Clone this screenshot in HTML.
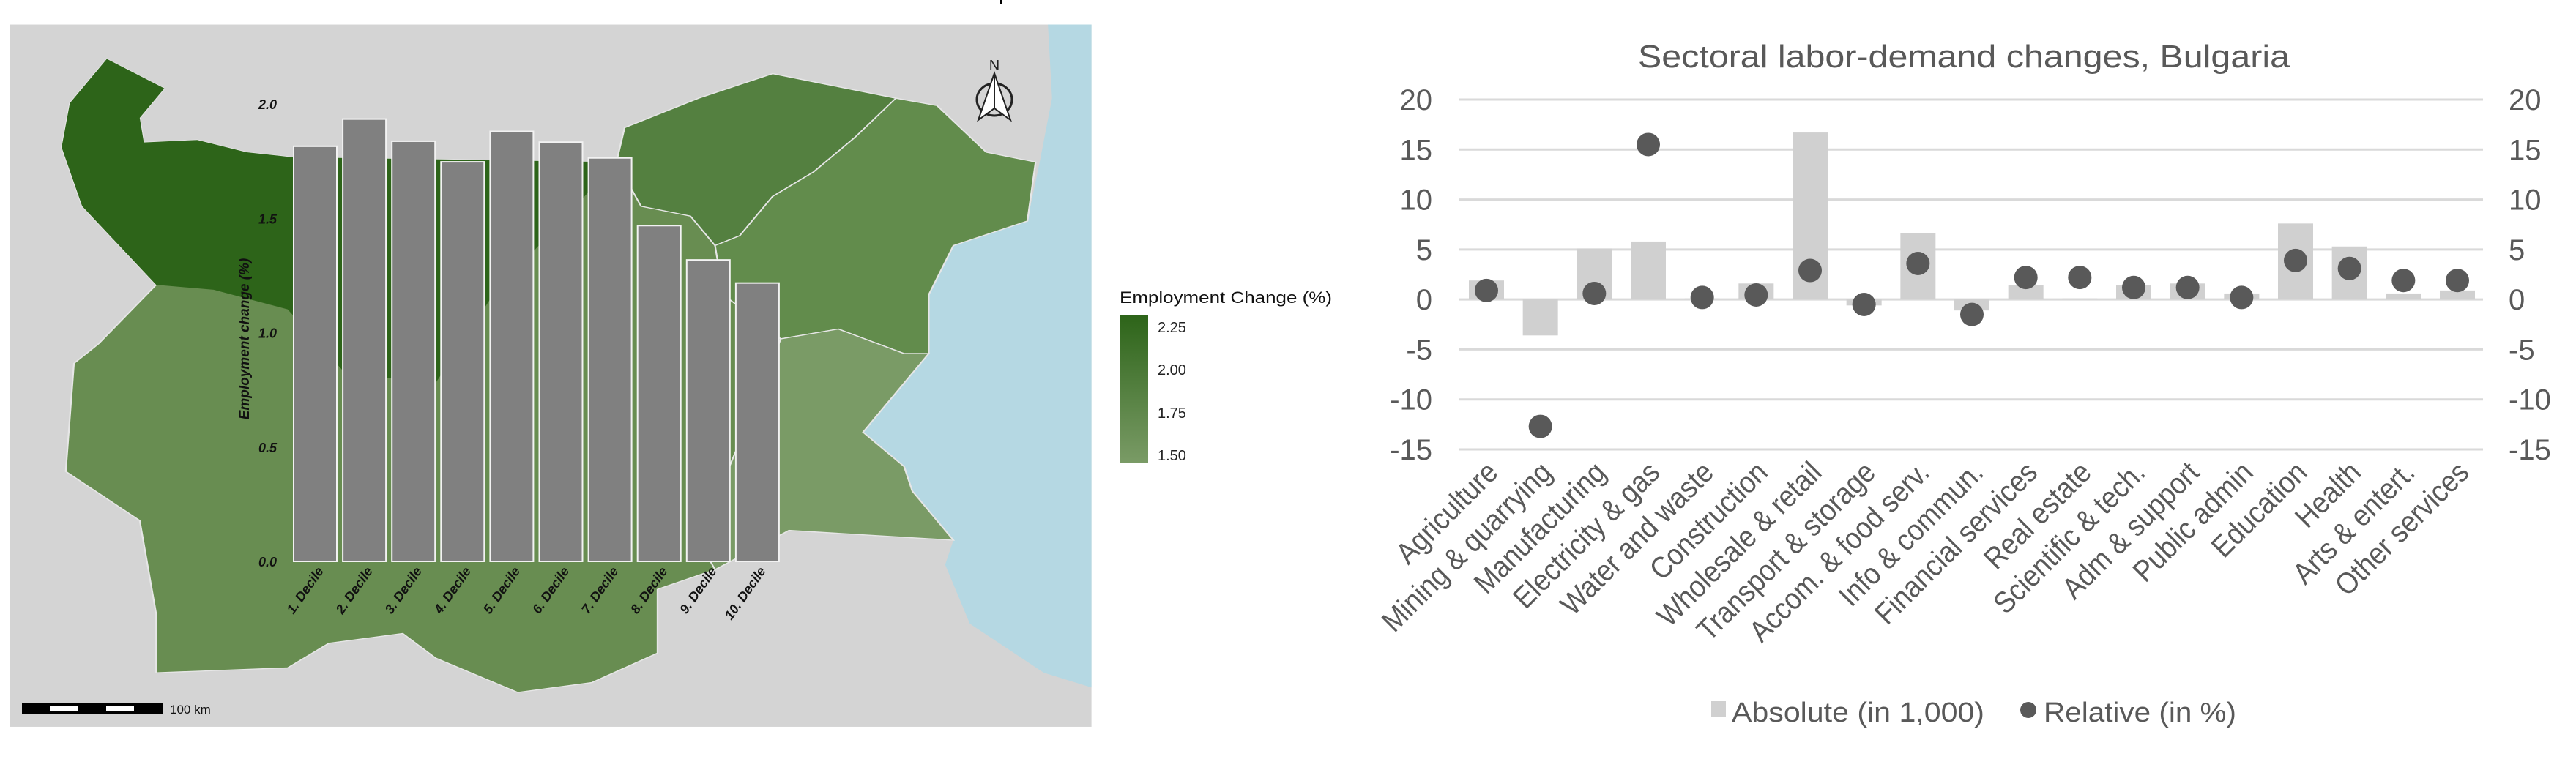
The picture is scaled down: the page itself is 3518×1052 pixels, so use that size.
<!DOCTYPE html>
<html><head><meta charset="utf-8"><style>
html,body{margin:0;padding:0;background:#fff;width:3518px;height:1052px;overflow:hidden;font-family:"Liberation Sans",sans-serif}
svg{position:absolute;left:0;top:0;overflow:visible}
</style></head><body>
<svg width="1760" height="1052" viewBox="0 0 1568 1568" preserveAspectRatio="none" style="overflow:hidden">
<rect x="12" y="50" width="1316" height="1430" fill="#d4d4d4"/>
<polygon fill="#b5d8e3" points="1275,50 1328,50 1328,1400 1270,1370 1180,1270 1150,1150 1160,1100 1110,1000 1100,950 1050,880 1060,800 1100,780 1130,720 1130,600 1160,500 1250,450 1265,330 1280,200"/>
<polygon fill="#688d51" stroke="#e6e6e6" stroke-width="2" points="130,120 200,180 170,240 175,290 240,285 300,310 355,320 750,330 760,260 850,200 940,150 1000,170 1090,200 1140,215 1200,310 1260,330 1250,450 1160,500 1130,600 1130,720 1100,780 1050,880 1100,950 1110,1000 1160,1100 960,1080 870,1160 800,1200 800,1330 720,1390 630,1410 530,1340 490,1290 400,1310 350,1360 190,1370 190,1250 170,1060 80,960 90,740 120,700 190,580 100,420 75,300 85,210"/>
<polygon fill="#2d6419" points="130,120 200,180 170,240 175,290 240,285 300,310 355,320 750,330 600,600 530,780 420,760 350,630 260,590 190,580 100,420 75,300 85,210"/>
<polygon fill="#548040" stroke="#e6e6e6" stroke-width="2" points="750,330 760,260 850,200 940,150 1000,170 1090,200 1090,230 1040,280 990,350 940,400 900,480 870,500 840,440 780,420"/>
<polygon fill="#628c4c" stroke="#e6e6e6" stroke-width="2" points="1090,200 1140,215 1200,310 1260,330 1250,450 1160,500 1130,600 1130,720 1100,720 1020,670 950,690 880,600 870,500 900,480 940,400 990,350 1040,280"/>
<polygon fill="#7a9b66" stroke="#e6e6e6" stroke-width="2" points="950,690 1020,670 1100,720 1130,720 1100,780 1050,880 1100,950 1110,1000 1160,1100 960,1080 870,1160 850,1100 900,900"/>
</svg>
<svg width="1760" height="1052" viewBox="0 0 1760 1052">
<line x1="1367" y1="0" x2="1367" y2="6" stroke="#000" stroke-width="2"/>
<g id="decile-chart"></g>
<g>
<text x="1358" y="96" font-size="20" text-anchor="middle" fill="#222">N</text>
<ellipse cx="1358" cy="136" rx="24" ry="22" fill="none" stroke="#222" stroke-width="3"/>
<polygon points="1358,100 1336,164 1358,148 1380,164" fill="#fff" stroke="#222" stroke-width="2"/>
<line x1="1358" y1="100" x2="1358" y2="148" stroke="#222" stroke-width="2"/>
</g>
<g>
<rect x="30" y="961" width="192" height="14" fill="#000"/>
<rect x="68" y="964" width="38" height="8" fill="#fff"/>
<rect x="145" y="964" width="38" height="8" fill="#fff"/>
<text x="232" y="975" font-size="17" fill="#111">100 km</text>
</g>
<g>
<defs><linearGradient id="lg" x1="0" y1="0" x2="0" y2="1"><stop offset="0" stop-color="#2d6419"/><stop offset="1" stop-color="#7a9b66"/></linearGradient></defs>
<text x="1529" y="414" font-size="22" fill="#111" textLength="290" lengthAdjust="spacingAndGlyphs">Employment Change (%)</text>
<rect x="1529" y="431" width="39" height="202" fill="url(#lg)"/>
<text x="1581" y="454" font-size="20" fill="#222">2.25</text>
<text x="1581" y="512" font-size="20" fill="#222">2.00</text>
<text x="1581" y="571" font-size="20" fill="#222">1.75</text>
<text x="1581" y="629" font-size="20" fill="#222">1.50</text>
</g>
</svg>
<svg width="3518" height="1052" viewBox="0 0 3518 1052" style="pointer-events:none">
<text x="2682" y="92" font-size="44" text-anchor="middle" fill="#595959" textLength="890" lengthAdjust="spacingAndGlyphs">Sectoral labor-demand changes, Bulgaria</text>
<g id="sector"></g>
<g>
<rect x="2337" y="958" width="20" height="22" fill="#d0d0d0"/>
<text x="2365" y="986" font-size="38" fill="#595959" textLength="345" lengthAdjust="spacingAndGlyphs">Absolute (in 1,000)</text>
<circle cx="2770" cy="970" r="11" fill="#595959"/>
<text x="2791" y="986" font-size="38" fill="#595959" textLength="263" lengthAdjust="spacingAndGlyphs">Relative (in %)</text>
</g>
</svg>
<script>
var NS="http://www.w3.org/2000/svg";
function mk(p,t,a){var e=document.createElementNS(NS,t);for(var k in a)e.setAttribute(k,a[k]);p.appendChild(e);return e;}
var decileLabels=["1. Decile","2. Decile","3. Decile","4. Decile","5. Decile","6. Decile","7. Decile","8. Decile","9. Decile","10. Decile"];
var decileValues=[1.815,1.934,1.837,1.747,1.880,1.833,1.764,1.468,1.318,1.217];
var decileTicks=["0.0","0.5","1.0","1.5","2.0"];
(function(){
var g=document.getElementById("decile-chart");
var y0=767,ppu=312.5,x0=401,pitch=67.1,bw=59;
function dy(v){return y0-v*ppu;}
decileTicks.forEach(function(t){
var e=mk(g,"text",{x:378,y:dy(parseFloat(t))+7,"font-size":18,"font-style":"italic","font-weight":"bold","text-anchor":"end",fill:"#111"});


e.textContent=t;});
decileValues.forEach(function(v,i){
var x=x0+i*pitch;
var r=mk(g,"rect",{x:x,y:dy(v),width:bw,height:v*ppu,fill:"#808080",stroke:"#f2f2f2","stroke-width":2});


var t=mk(g,"text",{transform:"translate("+(x+bw/2+12)+",780) rotate(-55)","font-size":18,"font-style":"italic","font-weight":"bold","text-anchor":"end",fill:"#111"});


t.textContent=decileLabels[i];});
var at=mk(g,"text",{transform:"translate(340,463) rotate(-90)","font-size":19,"font-style":"italic","font-weight":"bold","text-anchor":"middle",fill:"#111"});


at.textContent="Employment change (%)";
})();
var sectors=["Agriculture","Mining & quarrying","Manufacturing","Electricity & gas","Water and waste","Construction","Wholesale & retail","Transport & storage","Accom. & food serv.","Info & commun.","Financial services","Real estate","Scientific & tech.","Adm & support","Public admin","Education","Health","Arts & entert.","Other services"];
var absoluteVals=[1.9,-3.6,5.1,5.8,0.1,1.6,16.7,-0.6,6.6,-1.1,1.4,0.1,1.4,1.6,0.6,7.6,5.3,0.6,0.9];
var relativeVals=[0.9,-12.7,0.6,15.5,0.2,0.45,2.9,-0.5,3.6,-1.5,2.2,2.2,1.2,1.2,0.2,3.9,3.1,1.9,1.9];
var yTicks=[20,15,10,5,0,-5,-10,-15];
(function(){
var g=document.getElementById("sector");
var top=136,bot=614,vmax=20,vmin=-15;
function sy(v){return top+(vmax-v)*(bot-top)/(vmax-vmin);}
var x1=2030,x2=3356;
function sx(i){return x1+i*(x2-x1)/(sectors.length-1);}
yTicks.forEach(function(t){
var l=mk(g,"line",{x1:1992,x2:3391,y1:sy(t),y2:sy(t),stroke:"#d9d9d9","stroke-width":3});


var a=mk(g,"text",{x:1956,y:sy(t)+14,"font-size":40,"text-anchor":"end",fill:"#595959"});


a.textContent=t;
var b=mk(g,"text",{x:3426,y:sy(t)+14,"font-size":40,fill:"#595959"});


b.textContent=t;});
absoluteVals.forEach(function(v,i){
var y=Math.min(sy(v),sy(0)),h=Math.abs(sy(v)-sy(0));
var r=mk(g,"rect",{x:sx(i)-24,y:y,width:48,height:h,fill:"#d0d0d0"});

});
relativeVals.forEach(function(v,i){
var c=mk(g,"circle",{cx:sx(i),cy:sy(v),r:16,fill:"#595959"});

});
sectors.forEach(function(s,i){
var t=mk(g,"text",{transform:"translate("+(sx(i)+18)+",648) rotate(-45)","font-size":41,"text-anchor":"end",fill:"#595959"});


t.textContent=s;
var w=t.getComputedTextLength();
t.setAttribute('textLength',(w*0.9).toFixed(1));
t.setAttribute('lengthAdjust','spacingAndGlyphs');});
})();
</script>
</body></html>
